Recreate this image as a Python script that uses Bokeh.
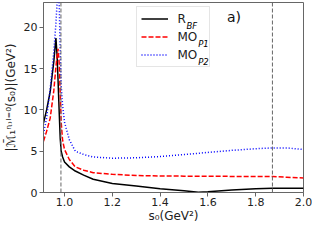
from bokeh.plotting import figure
from bokeh.models import Range1d, FixedTicker, Span, Label, PrintfTickFormatter
from bokeh.core.properties import value
from bokeh.embed import file_html
from bokeh.resources import INLINE

# ---- data ----
s0 = [0.912, 0.925, 0.94, 0.955, 0.964, 0.969, 0.973, 0.978, 0.982, 0.986,
      0.992, 1.0, 1.02, 1.045, 1.08, 1.12, 1.2, 1.3, 1.4, 1.5, 1.56, 1.6,
      1.7, 1.8, 1.87, 1.93, 2.0]
r_bf = [8.4, 10.0, 12.2, 15.8, 18.7, 16.5, 13.5, 9.5, 6.5, 5.0,
        4.3, 3.7, 3.1, 2.6, 2.1, 1.6, 1.1, 0.8, 0.45, 0.2, 0.03, 0.1,
        0.3, 0.45, 0.5, 0.5, 0.5]
mo_p1 = [6.2, 7.4, 9.0, 12.3, 15.2, 16.6, 17.4, 15.5, 12.0, 8.5,
         6.3, 5.2, 4.0, 3.1, 2.7, 2.4, 2.2, 2.05, 2.0, 1.98, 1.97, 1.97,
         1.95, 1.95, 1.93, 1.85, 1.75]
mo_p2 = [7.1, 9.0, 12.5, 17.0, 20.5, 23.0, 25.0, 22.5, 17.0, 13.0,
         10.5, 8.5, 6.4, 5.0, 4.6, 4.3, 4.15, 4.2, 4.35, 4.6, 4.75, 4.85,
         5.1, 5.3, 5.4, 5.4, 5.2]
thresholds = [0.985, 1.87]
x_ticks = [1.0, 1.2, 1.4, 1.6, 1.8, 2.0]
y_ticks = [0, 5, 10, 15, 20]
series_labels = ["R", "MO", "MO"]
series_subs = ["BF", "P1", "P2"]
panel_tag = ["a)"]
panel_tag_x = [1.68]
panel_tag_y = [21.2]

FONT = "DejaVu Sans"
W, H = 312, 227
BL, BR, BT, BB = 40, 9, 2, 35
FW, FH = W - BL - BR, H - BT - BB

p = figure(width=W, height=H, output_backend="svg", toolbar_location=None,
           x_range=Range1d(0.912, 2.0), y_range=Range1d(0, 23),
           min_border_left=BL, min_border_right=BR,
           min_border_top=BT, min_border_bottom=BB)

p.grid.visible = False
p.outline_line_color = "#666666"
p.outline_line_width = 1

for ax in (p.xaxis[0], p.yaxis[0]):
    ax.axis_line_color = "#666666"
    ax.major_tick_line_color = "#666666"
    ax.major_tick_in = 0
    ax.major_tick_out = 4
    ax.minor_tick_line_color = None
    ax.major_label_text_font = FONT
    ax.major_label_text_font_size = "11px"
    ax.major_label_text_color = "#222222"
    ax.axis_label_text_font = FONT
    ax.axis_label_text_font_size = "12px"
    ax.axis_label_text_font_style = "normal"
    ax.axis_label_text_color = "#222222"

p.xaxis.ticker = FixedTicker(ticks=x_ticks)
p.xaxis.formatter = PrintfTickFormatter(format="%.1f")
p.yaxis.ticker = FixedTicker(ticks=y_ticks)
p.xaxis.axis_label = "s₀(GeV²)"
p.yaxis.axis_label = "|ℳ̄₁ᶯ˒ᴵ⁼⁰(s₀)|(GeV²)"
p.xaxis.major_label_standoff = 1
p.xaxis.axis_label_standoff = 0
p.yaxis.major_label_standoff = 2
p.yaxis.axis_label_standoff = 3

for t in thresholds:
    p.add_layout(Span(location=t, dimension="height", line_color="#666666",
                      line_width=1, line_dash="4 2"))

p.line(s0, r_bf, line_color="black", line_width=1.5, legend_label=series_labels[0])
p.line(s0, mo_p1, line_color="#ff0000", line_width=1.5, line_dash="5 2",
       legend_label=series_labels[1] + " ")
p.line(s0, mo_p2, line_color="#0000ff", line_width=1.5, line_dash="1 2",
       legend_label=series_labels[2] + "  ")

p.text(x=panel_tag_x, y=panel_tag_y, text=panel_tag, text_font=value(FONT),
       text_font_size="14px", text_color="#111111", text_baseline="middle",
       text_align="left")

LEG_W, LEG_H = 78, 4 * 2 + 15 * 3 + 3 * 2
leg_x = (FW - LEG_W) / 2
leg_y = FH - 6 - LEG_H

lg = p.legend[0]
lg.location = (leg_x, leg_y)
lg.padding = 4
lg.spacing = 3
lg.glyph_width = 27
lg.glyph_height = 15
lg.label_height = 15
lg.label_width = 23
lg.label_standoff = 10
lg.label_text_font = FONT
lg.label_text_font_size = "12px"
lg.label_text_color = "#222222"
lg.border_line_color = "#cccccc"
lg.border_line_width = 1
lg.background_fill_alpha = 0.0

# subscripts for legend labels (same reference corner as the legend)
main_w = [8.4, 20.2, 20.2]
for i, sub in enumerate(series_subs):
    row_c = 4 + 7.5 + i * 18
    p.add_layout(Label(x=leg_x + 42 + main_w[i],
                       y=leg_y + LEG_H - row_c - 6,
                       x_units="screen", y_units="screen", text=sub,
                       text_font=FONT, text_font_size="8.5px",
                       text_font_style="italic", text_color="#000000",
                       text_baseline="alphabetic", text_align="left",
                       level="overlay"))

open("out.html", "w").write(file_html(p, INLINE))
